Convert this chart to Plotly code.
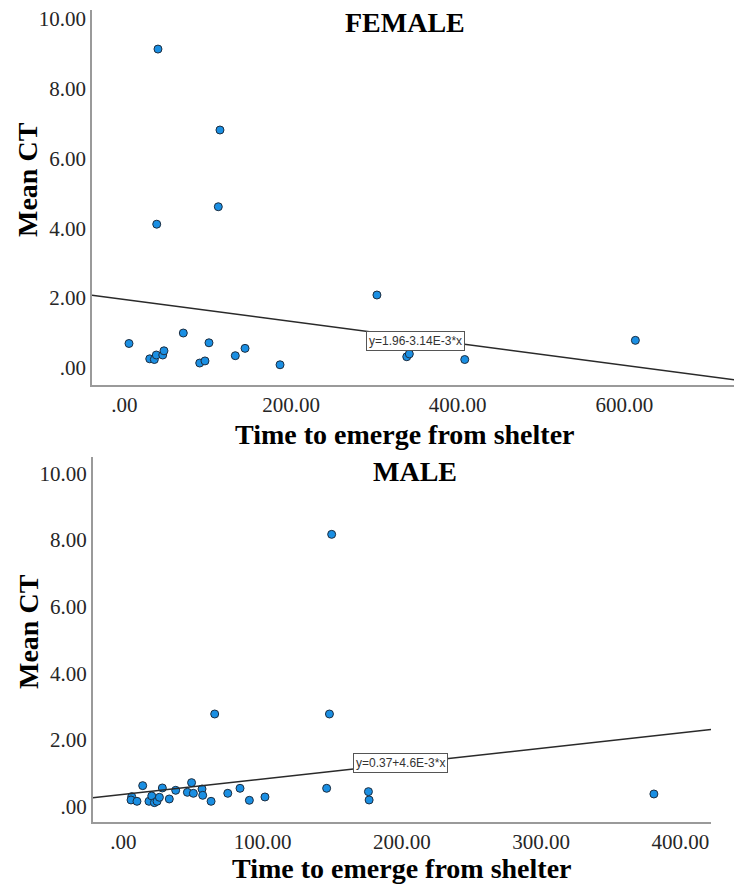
import plotly.graph_objects as go

# ---------------- data ----------------
female_time = [40.2, 114.6, 112.6, 38.7, 5.4, 30.3, 35.8, 38.2, 45.9, 47.4, 70.6,
               90.3, 96.6, 101.4, 133.0, 144.7, 186.7, 303.0, 338.8, 341.9, 408.4, 613.2]
female_ct = [9.14, 6.82, 4.62, 4.12, 0.70, 0.26, 0.24, 0.37, 0.37, 0.49, 1.00,
             0.14, 0.20, 0.72, 0.35, 0.56, 0.09, 2.09, 0.32, 0.40, 0.24, 0.79]

male_time = [6.0, 5.5, 9.8, 13.9, 18.4, 20.4, 22.3, 24.2, 25.9, 28.0, 33.0, 37.6,
             46.0, 49.0, 50.3, 56.5, 57.0, 63.0, 75.0, 83.8, 90.5, 101.7, 146.0,
             148.0, 149.6, 65.6, 176.0, 176.5, 381.0]
male_ct = [0.30, 0.20, 0.16, 0.63, 0.16, 0.32, 0.12, 0.16, 0.28, 0.56, 0.23, 0.49,
           0.43, 0.72, 0.40, 0.53, 0.34, 0.16, 0.40, 0.55, 0.19, 0.29, 0.55,
           2.78, 8.17, 2.78, 0.45, 0.20, 0.38]

female_fit = (1.96, -3.14e-3)
male_fit = (0.37, 4.6e-3)
female_fit_label = "y=1.96-3.14E-3*x"
male_fit_label = "y=0.37+4.6E-3*x"

female_xrange = [-39, 740]
male_xrange = [-22, 422]
female_yrange = [-0.49, 10.26]
male_yrange = [-0.47, 10.5]

y_ticks = [0, 2, 4, 6, 8, 10]
y_ticktext = [".00", "2.00", "4.00", "6.00", "8.00", "10.00"]
female_xticks = [0, 200, 400, 600]
female_xticktext = [".00", "200.00", "400.00", "600.00"]
male_xticks = [0, 100, 200, 300, 400]
male_xticktext = [".00", "100.00", "200.00", "300.00", "400.00"]

# ---------------- layout helpers (page has an 8px body margin) ----------------
OFF = 8
W, H = 742 - OFF, 885 - OFF


def px(x):
    return (x - OFF) / W


def py(y):
    return 1 - (y - OFF) / H


SERIF = "Liberation Serif"
marker = dict(size=8, color="#1a8fe3", line=dict(color="#1c2d40", width=1))

fig = go.Figure()

fig.add_trace(go.Scatter(x=female_time, y=female_ct, mode="markers", marker=marker,
                         xaxis="x", yaxis="y", showlegend=False, cliponaxis=False))
fx = female_xrange
fig.add_trace(go.Scatter(x=fx, y=[female_fit[0] + female_fit[1] * v for v in fx],
                         mode="lines", line=dict(color="#2a2a2a", width=1.5),
                         xaxis="x", yaxis="y", showlegend=False))

fig.add_trace(go.Scatter(x=male_time, y=male_ct, mode="markers", marker=marker,
                         xaxis="x2", yaxis="y2", showlegend=False, cliponaxis=False))
mx = male_xrange
fig.add_trace(go.Scatter(x=mx, y=[male_fit[0] + male_fit[1] * v for v in mx],
                         mode="lines", line=dict(color="#2a2a2a", width=1.5),
                         xaxis="x2", yaxis="y2", showlegend=False))

axis_common = dict(showline=True, linecolor="#9a9a9a", linewidth=1.5, mirror=False,
                   showgrid=False, zeroline=False, ticks="", automargin=False,
                   ticklabeloverflow="allow", ticklabelstandoff=0,
                   tickfont=dict(family=SERIF, size=21, color="#262626"))

fig.update_layout(
    template="none",
    width=W, height=H,
    margin=dict(l=0, r=0, t=0, b=0, pad=0),
    paper_bgcolor="white", plot_bgcolor="white",
    xaxis=dict(domain=[px(92), min(1, px(741))], range=female_xrange, anchor="y",
               tickvals=female_xticks, ticktext=female_xticktext, **axis_common),
    yaxis=dict(domain=[py(385), py(10)], range=female_yrange, anchor="x",
               tickvals=y_ticks, ticktext=y_ticktext, **axis_common),
    xaxis2=dict(domain=[px(92.7), px(711)], range=male_xrange, anchor="y2",
                tickvals=male_xticks, ticktext=male_xticktext, **axis_common),
    yaxis2=dict(domain=[py(822.3), py(456.7)], range=male_yrange, anchor="x2",
                tickvals=y_ticks, ticktext=y_ticktext, **axis_common),
)

title_font = dict(family=SERIF, size=28, color="black")
ann = [
    dict(text="<b>FEMALE</b>", x=px(405), y=py(22)),
    dict(text="<b>MALE</b>", x=px(415), y=py(472)),
    dict(text="<b>Time to emerge from shelter</b>", x=px(405), y=py(434)),
    dict(text="<b>Time to emerge from shelter</b>", x=px(402), y=py(868)),
    dict(text="<b>Mean CT</b>", x=px(27), y=py(180), textangle=-90),
    dict(text="<b>Mean CT</b>", x=px(28), y=py(632), textangle=-90),
]
for a in ann:
    fig.add_annotation(xref="paper", yref="paper", showarrow=False,
                       xanchor="center", yanchor="middle", font=title_font, **a)

box_font = dict(family="Liberation Sans", size=12, color="#333")
fig.add_annotation(text=female_fit_label, x=349, y=0.78, xref="x", yref="y",
                   showarrow=False, font=box_font, bgcolor="white",
                   bordercolor="#555", borderwidth=1, borderpad=2)
fig.add_annotation(text=male_fit_label, x=198.7, y=1.30, xref="x2", yref="y2",
                   showarrow=False, font=box_font, bgcolor="white",
                   bordercolor="#555", borderwidth=1, borderpad=2)

fig.write_html("out.html")
